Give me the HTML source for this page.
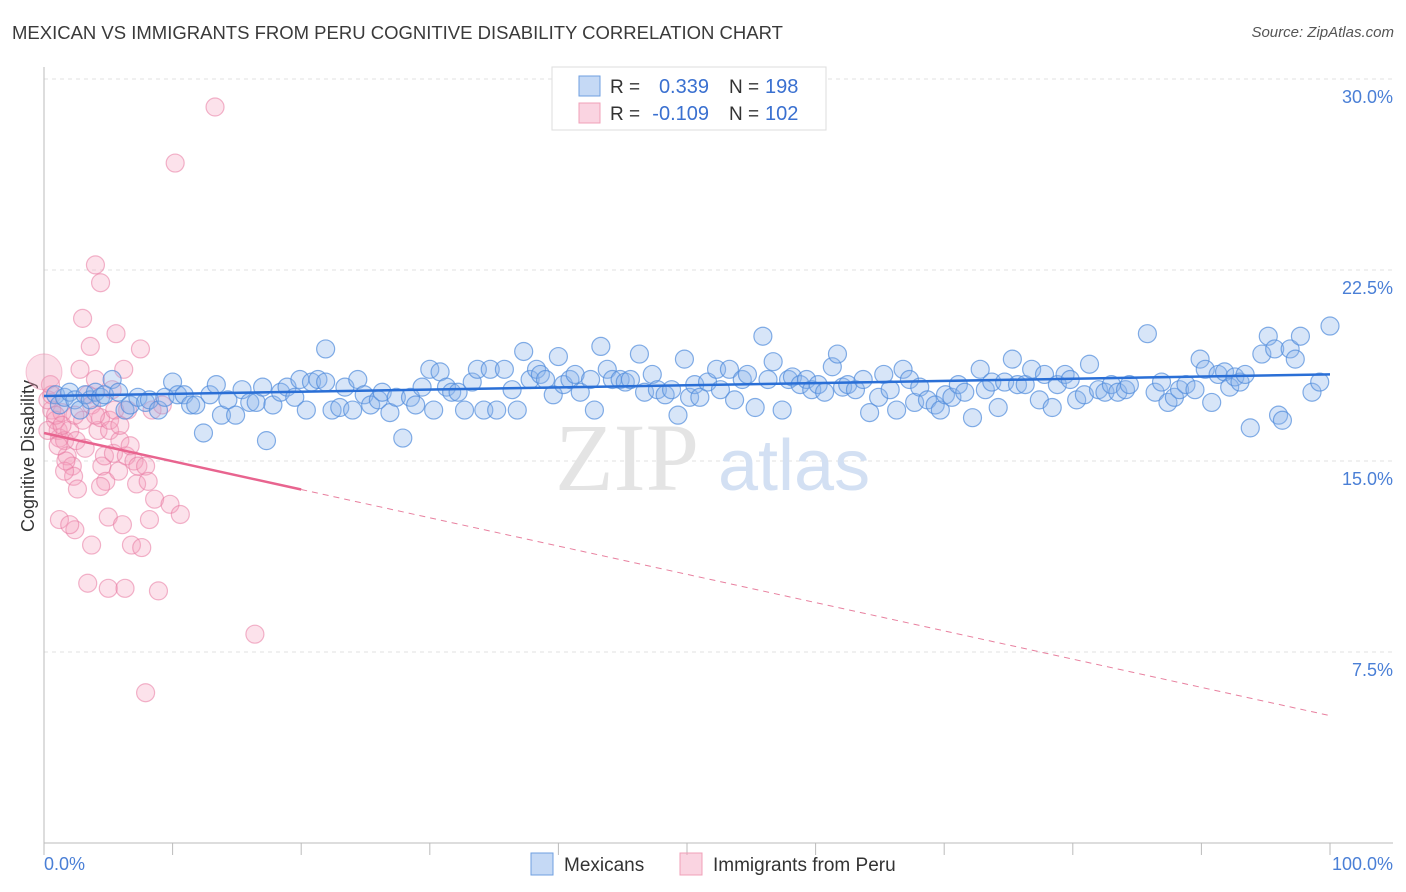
<!DOCTYPE html>
<html><head><meta charset="utf-8">
<style>
body{margin:0;background:#fff;font-family:"Liberation Sans",sans-serif;}
#wrap{position:relative;width:1406px;height:892px;overflow:hidden;}
.t{position:absolute;white-space:nowrap;}
</style></head>
<body><div id="wrap">
<div class="t" style="left:12px;top:22px;font-size:18.5px;color:#3a3a3a;">MEXICAN VS IMMIGRANTS FROM PERU COGNITIVE DISABILITY CORRELATION CHART</div>
<div class="t" style="right:12px;top:24px;font-size:15px;color:#555;font-style:italic;">Source: ZipAtlas.com</div>
<svg id="svg" width="1406" height="892" style="position:absolute;left:0;top:0"></svg>
</div>
<script>
const yTicks=[7.5,15,22.5,30];
const xTickLabels=["0.0%","100.0%"];
const blueX=[0.9,1.2,1.6,2.0,2.4,2.8,3.2,3.6,4.0,4.4,4.7,5.3,5.8,6.3,6.7,7.3,7.9,8.2,8.9,9.4,10.0,10.4,10.9,11.4,11.8,12.4,12.9,13.4,13.8,14.3,14.9,15.4,16.0,16.5,17.0,17.3,17.8,18.4,18.9,19.5,19.9,20.4,20.8,21.3,21.9,21.9,22.4,23.0,23.4,24.0,24.4,24.9,25.4,26.0,26.3,26.9,27.4,27.9,28.5,28.9,29.4,30.0,30.3,30.8,31.3,31.7,32.2,32.7,33.3,33.7,34.2,34.7,35.2,35.8,36.4,36.8,37.3,37.8,38.3,38.6,39.0,39.6,40.0,40.4,40.9,41.3,41.7,42.5,42.8,43.3,43.8,44.2,44.8,45.2,45.6,46.3,46.7,47.3,47.7,48.3,48.8,49.3,49.8,50.2,50.6,51.0,51.6,52.3,52.6,53.3,53.7,54.3,54.7,55.3,55.9,56.3,56.7,57.4,57.9,58.2,58.8,59.3,59.7,60.2,60.7,61.3,61.7,62.1,62.5,63.1,63.7,64.2,64.9,65.3,65.8,66.3,66.8,67.3,67.7,68.1,68.7,69.3,69.7,70.1,70.6,71.1,71.6,72.2,72.8,73.2,73.7,74.2,74.7,75.3,75.7,76.3,76.8,77.4,77.8,78.4,78.8,79.4,79.8,80.3,80.9,81.3,82.0,82.5,83.0,83.5,84.1,84.4,85.8,86.4,86.9,87.4,87.9,88.3,88.8,89.5,89.9,90.3,90.8,91.3,91.8,92.2,92.6,93.0,93.4,93.8,94.7,95.2,95.7,96.0,96.3,96.9,97.3,97.7,98.6,99.2,100];
const blueY=[17.6,17.2,17.5,17.7,17.4,17.0,17.6,17.4,17.7,17.5,17.6,18.2,17.7,17.0,17.2,17.5,17.3,17.4,17.0,17.5,18.1,17.6,17.6,17.2,17.2,16.1,17.6,18.0,16.8,17.4,16.8,17.8,17.3,17.3,17.9,15.8,17.2,17.7,17.9,17.5,18.2,17.0,18.1,18.2,19.4,18.1,17.0,17.1,17.9,17.0,18.2,17.6,17.2,17.4,17.7,16.9,17.5,15.9,17.5,17.2,17.9,18.6,17.0,18.5,17.9,17.7,17.7,17.0,18.1,18.6,17.0,18.6,17.0,18.6,17.8,17.0,19.3,18.2,18.6,18.4,18.2,17.6,19.1,18.0,18.2,18.4,17.7,18.2,17.0,19.5,18.6,18.2,18.2,18.1,18.2,19.2,17.7,18.4,17.8,17.6,17.8,16.8,19.0,17.5,18.0,17.5,18.1,18.6,17.8,18.6,17.4,18.2,18.4,17.1,19.9,18.2,18.9,17.0,18.2,18.3,18.0,18.2,17.8,18.0,17.7,18.7,19.2,17.9,18.0,17.8,18.2,16.9,17.5,18.4,17.8,17.0,18.6,18.2,17.3,17.9,17.4,17.2,17.0,17.6,17.5,18.0,17.7,16.7,18.6,17.8,18.1,17.1,18.1,19.0,18.0,18.0,18.6,17.4,18.4,17.1,18.0,18.4,18.2,17.4,17.6,18.8,17.8,17.7,18.0,17.7,17.8,18.0,20.0,17.7,18.1,17.3,17.5,17.8,18.0,17.8,19.0,18.6,17.3,18.4,18.5,17.9,18.3,18.1,18.4,16.3,19.2,19.9,19.4,16.8,16.6,19.4,19.0,19.9,17.7,18.1,20.3];
const pinkX=[0.5,0.6,0.9,1.1,1.2,1.4,1.6,1.8,2.0,2.2,2.3,2.5,2.6,2.8,3.0,3.0,3.2,3.4,3.6,3.7,4.0,4.0,4.2,4.4,4.5,4.7,4.8,5.0,5.1,5.3,5.4,5.6,5.8,5.9,6.1,6.2,6.4,6.5,6.7,6.8,7.0,7.2,7.3,7.5,7.6,7.9,8.1,8.2,8.4,8.6,8.9,9.2,7.9,9.8,10.2,10.6,13.3,16.4,4.4,5.0,6.3,1.2,2.4,2.0,3.4,3.7,4.4,5.1,1.6,1.7,0.3,0.6,0.9,0.3,1.4,2.4,4.0,5.5,5.9,1.1];
const pinkY=[18.0,17.0,16.6,16.2,15.9,16.9,15.8,15.2,16.2,14.8,14.4,15.8,13.9,18.6,20.6,16.6,15.5,17.6,19.5,17.2,18.2,22.7,16.2,16.7,14.8,15.2,14.2,12.8,16.2,17.8,15.3,20.0,14.6,15.8,12.5,18.6,15.2,17.0,15.6,11.7,15.0,14.1,14.8,19.4,11.6,14.8,14.2,12.7,17.0,13.5,9.9,17.2,5.9,13.3,26.7,12.9,28.9,8.2,22.0,10.0,10.0,12.7,12.3,12.5,10.2,11.7,14.0,16.6,14.6,15.0,17.4,17.6,16.8,16.2,16.4,16.8,16.8,17.0,16.4,15.6];
const blueTrend=[17.55,18.4];
const pinkTrend=[16.1,5.0];
const pinkSolidEnd=20;

const NS="http://www.w3.org/2000/svg";
const svg=document.getElementById('svg');
const X0=44,X1=1330,YB=843,YT=79;
const sx=v=>X0+(X1-X0)*v/100;
const sy=v=>YB-(YB-YT)*v/30;
function mk(tag,at){const e=document.createElementNS(NS,tag);for(const k in at)e.setAttribute(k,at[k]);svg.appendChild(e);return e;}
function txt(s,x,y,at){const e=mk('text',Object.assign({x:x,y:y},at));e.textContent=s;return e;}

yTicks.forEach(t=>{
 const g=mk('line',{x1:X0,x2:1393,y1:sy(t),y2:sy(t),stroke:'#e2e2e2','stroke-dasharray':'4,4'});
 
 
 const l=txt(t.toFixed(1)+'%',1393,sy(t)+24,{'text-anchor':'end','font-size':18,fill:'#4a7fd6','font-family':'Liberation Sans, sans-serif'});
 
 
});
const ax=mk('line',{x1:X0,x2:X0,y1:67,y2:YB,stroke:'#bbb'});


const bx=mk('line',{x1:X0,x2:1393,y1:YB,y2:YB,stroke:'#bbb'});


for(let i=0;i<=10;i++){
 const tk=mk('line',{x1:sx(i*10),x2:sx(i*10),y1:YB,y2:YB+12,stroke:'#bbb'});
 
 
}
const xl0=txt(xTickLabels[0],44,870,{'font-size':18,fill:'#4a7fd6','font-family':'Liberation Sans, sans-serif'});


const xl1=txt(xTickLabels[1],1393,870,{'text-anchor':'end','font-size':18,fill:'#4a7fd6','font-family':'Liberation Sans, sans-serif'});


const yt=txt('Cognitive Disability',0,0,{'font-size':18,fill:'#333','text-anchor':'middle','transform':'translate(34,456) rotate(-90)','font-family':'Liberation Sans, sans-serif'});



const w1=txt('ZIP',555,490,{'font-size':96,fill:'#e4e4e4','font-family':'Liberation Serif, serif'});


const w2=txt('atlas',718,490,{'font-size':72,fill:'#d3e0f3','font-family':'Liberation Sans, sans-serif'});



pinkX.forEach((x,i)=>{
 const c=mk('circle',{cx:sx(x),cy:sy(pinkY[i]),r:9,fill:'rgba(244,160,188,0.3)',stroke:'rgba(232,120,160,0.55)','stroke-width':1.2});
 
 
});
const big=mk('circle',{cx:sx(0),cy:sy(18.5),r:18,fill:'rgba(244,160,188,0.35)',stroke:'rgba(232,120,160,0.4)'});


blueX.forEach((x,i)=>{
 const c=mk('circle',{cx:sx(x),cy:sy(blueY[i]),r:9,fill:'rgba(140,180,235,0.35)',stroke:'rgba(80,140,220,0.7)','stroke-width':1.2});
 
 
});
const bt=mk('line',{x1:sx(0),x2:sx(100),y1:sy(blueTrend[0]),y2:sy(blueTrend[1]),stroke:'#2a6fd6','stroke-width':2.5});


const pAt=x=>pinkTrend[0]+(pinkTrend[1]-pinkTrend[0])*x/100;
const pt=mk('line',{x1:sx(0),x2:sx(pinkSolidEnd),y1:sy(pAt(0)),y2:sy(pAt(pinkSolidEnd)),stroke:'#e8648f','stroke-width':2.5});


const pd=mk('line',{x1:sx(pinkSolidEnd),x2:sx(100),y1:sy(pAt(pinkSolidEnd)),y2:sy(pAt(100)),stroke:'#e8809f','stroke-width':1,'stroke-dasharray':'6,5'});



const lg=mk('rect',{x:552,y:67,width:274,height:63,fill:'#fff',stroke:'#ddd'});


[[ '0.339','198','rgba(140,180,235,0.5)','#6f9fe0',86],[ '-0.109','102','rgba(244,160,188,0.45)','#f0a0b8',113]].forEach(r=>{
 const s=mk('rect',{x:579,y:r[4]-10,width:21,height:20,fill:r[2],stroke:r[3]});
 
 
 const a=txt('R = ',610,r[4]+7,{'font-size':19,fill:'#333','font-family':'Liberation Sans, sans-serif'});
 
 
 const b=txt(r[0],709,r[4]+7,{'font-size':20,fill:'#3a70d0','text-anchor':'end','font-family':'Liberation Sans, sans-serif'});
 
 
 const c=txt('N = ',729,r[4]+7,{'font-size':19,fill:'#333','font-family':'Liberation Sans, sans-serif'});
 
 
 const d=txt(r[1],765,r[4]+7,{'font-size':20,fill:'#3a70d0','font-family':'Liberation Sans, sans-serif'});
 
 
});
[[531,'Mexicans','rgba(140,180,235,0.5)','#6f9fe0'],[680,'Immigrants from Peru','rgba(244,160,188,0.45)','#f0a0b8']].forEach(r=>{
 const s=mk('rect',{x:r[0],y:853,width:22,height:22,fill:r[2],stroke:r[3]});
 
 
 const t=txt(r[1],r[0]+33,871,{'font-size':19,fill:'#333','font-family':'Liberation Sans, sans-serif'});
 
 
});
</script>
</body></html>
